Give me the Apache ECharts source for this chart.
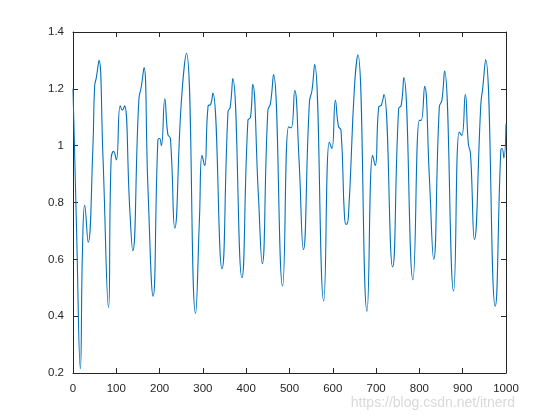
<!DOCTYPE html>
<html><head><meta charset="utf-8">
<script src="https://cdn.jsdelivr.net/npm/echarts@6/dist/echarts.min.js"></script>
<style>html,body{margin:0;padding:0;background:#fff}#c{width:560px;height:420px}</style>
</head><body><div id="c"></div>
<script>
var xs = [0,8,17,22,27,35,46,50,54,60,69,82,88,94,100,109,114,119,131,138,152,158,164,173,185,196,200,204,212,219,225,235,250,262,283,292,298,304,312,318,323,344,358,363,369,390,404,410,415,428,437,450,456,463,484,498,504,512,522,532,546,552,558,579,592,598,606,613,619,627,631,636,650,658,679,692,698,706,712,718,738,752,758,764,785,800,804,812,823,833,846,852,858,879,892,898,906,913,918,927,942,946,953,975,988,991,995,1000];
var ys = [1.20,0.72,0.215,0.64,0.79,0.66,0.995,1.21,1.24,1.30,0.97,0.43,0.95,0.98,0.95,1.14,1.125,1.14,0.78,0.63,1.16,1.21,1.275,0.855,0.47,1.02,1.025,1.0,1.165,1.04,1.025,0.71,1.15,1.325,0.41,0.74,0.966,0.93,1.14,1.145,1.185,0.567,1.12,1.135,1.236,0.535,1.09,1.1,1.216,0.83,0.585,1.124,1.148,1.25,0.506,1.066,1.063,1.195,0.95,0.634,1.154,1.195,1.286,0.453,1.013,0.99,1.16,1.068,1.054,0.75,0.723,0.75,1.206,1.32,0.417,0.966,0.93,1.136,1.142,1.18,0.573,1.13,1.142,1.24,0.528,1.089,1.089,1.209,0.89,0.6,1.136,1.16,1.263,0.488,1.048,1.036,1.18,1.007,0.972,0.67,1.148,1.2,1.303,0.435,0.984,0.99,0.957,1.077];
var xTicks = [0,100,200,300,400,500,600,700,800,900,1000];
var yTicks = [0.2,0.4,0.6,0.8,1,1.2,1.4];
var watermark = "https://blog.csdn.net/itnerd";

var data = xs.map(function(x,i){return [x, ys[i]];});
var axisCol = '#262626';
var font = 'Liberation Sans, Arial, Helvetica, sans-serif';
function xAx(pos, labels){
  return {type:'value', position:pos, min:xTicks[0], max:xTicks[xTicks.length-1], interval:xTicks[1]-xTicks[0],
    axisLine:{show:true, onZero:false, lineStyle:{color:axisCol, width:1}},
    axisTick:{show:true, inside:true, length:5, lineStyle:{color:axisCol}},
    axisLabel:{show:labels, color:axisCol, fontSize:11.5, fontFamily:font, margin:10,
      formatter:function(v){return String(Math.round(v));}},
    splitLine:{show:false}};
}
function yAx(pos, labels){
  return {type:'value', position:pos, min:yTicks[0], max:yTicks[yTicks.length-1], interval:0.2,
    axisLine:{show:true, onZero:false, lineStyle:{color:axisCol, width:1}},
    axisTick:{show:true, inside:true, length:5, lineStyle:{color:axisCol}},
    axisLabel:{show:labels, color:axisCol, fontSize:11.5, fontFamily:font, margin:9,
      formatter:function(v){return String(parseFloat(v.toFixed(1)));}},
    splitLine:{show:false}};
}
var chart = echarts.init(document.getElementById('c'), null, {renderer:'canvas'});
chart.setOption({
  animation:false,
  backgroundColor:'#fff',
  grid:{left:73, right:54, top:32, bottom:47, containLabel:false},
  xAxis:[xAx('bottom', true), xAx('top', false)],
  yAxis:[yAx('left', true), yAx('right', false)],
  graphic:[{type:'text', right:45, top:396, style:{text:watermark, fill:'#d9d9d9', fontSize:14, fontFamily:font}}],
  series:[{type:'line', data:data, xAxisIndex:0, yAxisIndex:0, smooth:0.5, showSymbol:false,
    lineStyle:{color:'#0072BD', width:1.1}}]
});
</script></body></html>
